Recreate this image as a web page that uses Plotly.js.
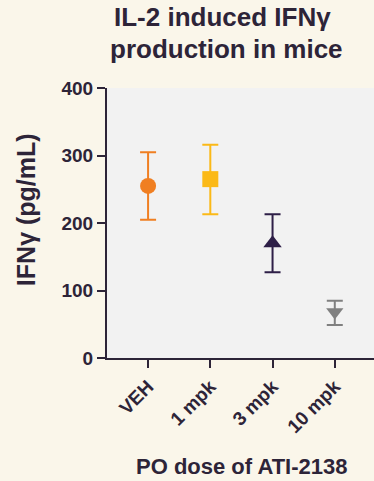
<!DOCTYPE html>
<html>
<head>
<meta charset="utf-8">
<script src="https://cdn.plot.ly/plotly-3.0.1.min.js"></script>
<style>html,body{margin:0;padding:0;background:#faf6ea;}#chart{width:374px;height:481px;}</style>
</head>
<body>
<div id="chart"></div>
<script>
const categories = ["VEH", "1 mpk", "3 mpk", "10 mpk"];
const means = [255, 265, 170, 68];
const errPlus = [50, 51, 43, 17];
const errMinus = [50, 52, 43, 19];
const colors = ["#f07f22", "#fbb917", "#2e1f47", "#808080"];
const symbols = ["circle", "square", "triangle-up", "triangle-down"];
const sizes = [16, 16, 16, 15];
const titleLines = ["IL-2 induced IFNγ", "production in mice"];

const textColor = "#2d2438";
const fontFam = "Liberation Sans, Arial, sans-serif";

const traces = categories.map((c, i) => ({
  type: "scatter",
  mode: "markers",
  x: [c],
  y: [means[i]],
  marker: {color: colors[i], symbol: symbols[i], size: sizes[i]},
  error_y: {type: "data", symmetric: false, array: [errPlus[i]], arrayminus: [errMinus[i]],
            color: colors[i], thickness: 2, width: 8},
  showlegend: false,
  hoverinfo: "skip"
}));

const layout = {
  width: 374, height: 481,
  margin: {l: 107, r: 0, t: 88, b: 123},
  paper_bgcolor: "#faf6ea",
  plot_bgcolor: "#f2f2f2",
  font: {family: fontFam, color: textColor},
  xaxis: {
    type: "category",
    categoryorder: "array", categoryarray: categories,
    range: [-0.66, 3.63],
    showline: true, linecolor: textColor, linewidth: 2,
    ticks: "outside", ticklen: 8, tickwidth: 2, tickcolor: textColor,
    tickangle: -45,
    tickfont: {size: 19, color: textColor, family: fontFam, weight: "bold"},
    showgrid: false, zeroline: false
  },
  yaxis: {
    range: [0, 400], dtick: 100, tick0: 0,
    showline: true, linecolor: textColor, linewidth: 2,
    ticks: "outside", ticklen: 8, tickwidth: 2, tickcolor: textColor,
    tickfont: {size: 19, color: textColor, family: fontFam, weight: "bold"},
    showgrid: false, zeroline: false
  },
  annotations: [
    {text: "<b>" + titleLines[0] + "</b>", xref: "paper", yref: "paper",
     x: 0.434, y: 1.263, xanchor: "center", yanchor: "middle", showarrow: false,
     font: {size: 26, color: textColor, family: fontFam}},
    {text: "<b>" + titleLines[1] + "</b>", xref: "paper", yref: "paper",
     x: 0.449, y: 1.146, xanchor: "center", yanchor: "middle", showarrow: false,
     font: {size: 26, color: textColor, family: fontFam}},
    {text: "<b>IFNγ (pg/mL)</b>", textangle: -90, xref: "paper", yref: "paper",
     x: -0.303, y: 0.548, xanchor: "center", yanchor: "middle", showarrow: false,
     font: {size: 25, color: textColor, family: fontFam}},
    {text: "<b>PO dose of ATI-2138</b>", xref: "paper", yref: "paper",
     x: 0.506, y: -0.40, xanchor: "center", yanchor: "middle", showarrow: false,
     font: {size: 22, color: textColor, family: fontFam}}
  ]
};

Plotly.newPlot("chart", traces, layout, {displayModeBar: false, staticPlot: true});
</script>
</body>
</html>
